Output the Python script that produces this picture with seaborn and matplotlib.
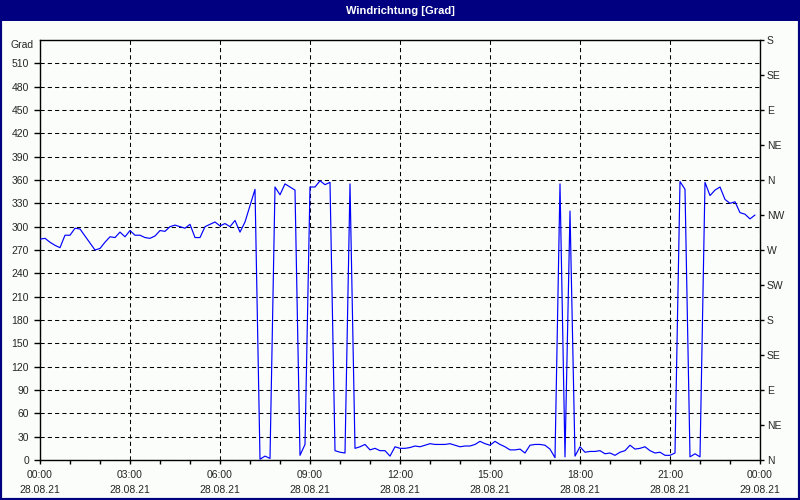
import numpy as np
import pandas as pd
import matplotlib
matplotlib.use("Agg")
import matplotlib.pyplot as plt
import matplotlib.dates as mdates
from matplotlib.patches import Rectangle
import seaborn as sns

# ---- data (10-minute wind direction values, degrees) ----
start_time = "2021-08-28 00:00"
end_time = "2021-08-29 00:00"
direction = [
    284, 285, 280, 276, 273, 289, 289, 298, 297, 288,
    279, 270, 272, 280, 287, 286, 293, 287, 295, 289,
    289, 286, 285, 288, 295, 294, 300, 302, 300, 298,
    303, 286, 286, 300, 303, 306, 301, 304, 300, 308,
    293, 306, 327, 348, 1, 5, 2, 351, 341, 355,
    351, 347, 6, 20, 351, 351, 359, 354, 357, 12,
    10, 9, 355, 15, 17, 20, 13, 15, 12, 12,
    5, 17, 15, 15, 16, 18, 17, 19, 21, 20,
    20, 20, 21, 19, 17, 18, 18, 20, 24, 21,
    19, 24, 20, 17, 13, 13, 14, 9, 19, 20,
    20, 19, 14, 3, 355, 4, 320, 5, 17, 10,
    11, 11, 12, 8, 9, 6, 10, 12, 19, 14,
    15, 17, 12, 9, 10, 6, 6, 9, 358, 348,
    4, 8, 4, 357, 340, 347, 351, 335, 330, 332,
    318, 316, 310, 315,
]
left_ticks = list(range(0, 540, 30))
right_ticks = list(range(0, 541, 45))
right_labels = ["N", "NE", "E", "SE", "S", "SW", "W", "NW",
                "N", "NE", "E", "SE", "S"]
title = "Windrichtung [Grad]"
unit_label = "Grad"

times = pd.date_range(start_time, periods=len(direction), freq="10min")
df = pd.DataFrame({"time": times, "dir": direction})

# ---- style ----
bg = "#FAFDFA"
navy = "#000080"
sns.set_style("white")
plt.rcParams["font.family"] = ["Liberation Sans", "DejaVu Sans"]
plt.rcParams["font.size"] = 7.5

fig = plt.figure(figsize=(8, 5), dpi=100, facecolor=bg)
ax = fig.add_axes([40 / 800, 40 / 500, 720 / 800, 420 / 500])
ax.set_facecolor(bg)

sns.lineplot(data=df, x="time", y="dir", ax=ax, color="#0000FF",
             linewidth=0.85, zorder=3)

ax.set_xlim(pd.Timestamp(start_time), pd.Timestamp(end_time))
ax.set_ylim(0, 540)
ax.set_xlabel("")
ax.set_ylabel("")

# x axis
ax.xaxis.set_major_locator(mdates.HourLocator(byhour=range(0, 24, 3)))
ax.xaxis.set_minor_locator(mdates.HourLocator())
ax.xaxis.set_major_formatter(mdates.DateFormatter("%H:%M\n%d.%m.%y"))
for lab in ax.get_xticklabels():
    lab.set_linespacing(1.6)
ax.tick_params(axis="x", which="both", direction="out", length=3, width=1,
               color="black", pad=4, labelsize=7.5, bottom=True)

# left y axis
ax.set_yticks(left_ticks)
ax.set_yticklabels([str(v) for v in left_ticks])
ax.tick_params(axis="y", direction="out", length=4, width=1, color="black",
               pad=4, labelsize=7.5, left=True)
ax.text(-6 / 720, 1.0, unit_label, transform=ax.transAxes, ha="right",
        va="top", fontsize=7.5)

# grid
ax.grid(True, which="major", axis="both", color="black", linewidth=0.75,
        linestyle=(0, (4, 3)), zorder=1)
ax.set_axisbelow(True)

for s in ax.spines.values():
    s.set_visible(True)
    s.set_color("black")
    s.set_linewidth(1.0)

# right axis with compass labels
ax2 = ax.twinx()
ax2.set_ylim(0, 540)
ax2.set_yticks(right_ticks)
ax2.set_yticklabels(right_labels)
ax2.tick_params(axis="y", direction="out", length=3, width=1, color="black",
                pad=2, labelsize=7.5, right=True)
for s in ax2.spines.values():
    s.set_visible(False)
ax2.grid(False)

# title bar and frame
fig.patches.append(Rectangle((0, 1 - 21 / 500), 1, 21 / 500,
                             transform=fig.transFigure, facecolor=navy,
                             edgecolor="none", zorder=0))
fig.patches.append(Rectangle((0, 0), 1, 1, transform=fig.transFigure,
                             fill=False, edgecolor=navy, linewidth=3,
                             zorder=5))
fig.text(0.5, 1 - 10.5 / 500, title, color="white", fontweight="bold",
         ha="center", va="center", fontsize=8)

fig.savefig("out.png", dpi=100, facecolor=bg)
